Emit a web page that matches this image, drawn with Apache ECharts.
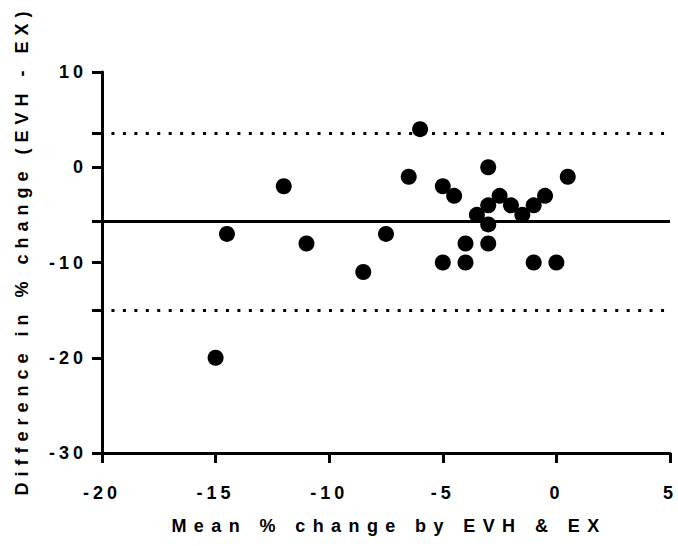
<!DOCTYPE html>
<html>
<head>
<meta charset="utf-8">
<script src="https://cdn.jsdelivr.net/npm/echarts@6/dist/echarts.min.js"></script>
<style>
  html, body { margin: 0; padding: 0; background: #fff; }
  #chart { width: 678px; height: 546px; }
</style>
</head>
<body>
<div id="chart"></div>
<script>
// Bland-Altman data: mean of the two methods (x) and their difference (y)
const meanChange = [-15, -14.5, -12, -11, -8.5, -7.5, -6.5, -6, -5, -5, -4.5, -4, -4, -3.5, -3, -3, -3, -3, -2.5, -2, -1.5, -1, -1, -0.5, 0, 0.5];
const diffChange = [-20, -7, -2, -8, -11, -7, -1, 4, -2, -10, -3, -8, -10, -5, 0, -4, -6, -8, -3, -4, -5, -4, -10, -3, -10, -1];

// bias and 95% limits of agreement
const bias = -5.7;
const upperLimit = 3.6;
const lowerLimit = -15.0;

const xTicks = [-20, -15, -10, -5, 0, 5];
const yTicks = [-30, -20, -10, 0, 10];

const xTitle = 'Mean % change by EVH & EX';
const yTitle = 'Difference in % change (EVH - EX)';

const FONT = "'Liberation Sans', Arial, Helvetica, sans-serif";
const labelStyle = { fontSize: 18, fontWeight: 'bold', color: '#000', fontFamily: FONT };

const chart = echarts.init(document.getElementById('chart'), null, { renderer: 'svg' });

const points = meanChange.map((x, i) => [x, diffChange[i]]);

chart.setOption({
  animation: false,
  backgroundColor: '#fff',
  grid: { left: 102, right: 8, top: 72, bottom: 93 },
  xAxis: {
    type: 'value',
    min: xTicks[0],
    max: xTicks[xTicks.length - 1],
    interval: 5,
    splitLine: { show: false },
    axisLine: { onZero: false, lineStyle: { color: '#000', width: 3 } },
    axisTick: { length: 10, lineStyle: { color: '#000', width: 3 } },
    axisLabel: Object.assign({ margin: 31 }, labelStyle),
    name: xTitle,
    nameLocation: 'middle',
    nameGap: 64,
    nameTextStyle: Object.assign({ padding: [0, 0, 0, 6] }, labelStyle)
  },
  yAxis: {
    type: 'value',
    min: yTicks[0],
    max: yTicks[yTicks.length - 1],
    interval: 10,
    splitLine: { show: false },
    axisLine: { onZero: false, lineStyle: { color: '#000', width: 3 } },
    axisTick: {
      length: 10,
      lineStyle: { color: '#000', width: 3 },
      customValues: yTicks.concat([upperLimit, bias, lowerLimit])
    },
    axisLabel: Object.assign({ margin: 15, customValues: yTicks }, labelStyle),
    name: yTitle,
    nameLocation: 'middle',
    nameGap: 71,
    nameTextStyle: Object.assign({ padding: [0, 0, 0, 24] }, labelStyle)
  },
  series: [{
    type: 'scatter',
    data: points,
    symbol: 'circle',
    symbolSize: 16,
    itemStyle: { color: '#000', opacity: 1 },
    z: 3,
    markLine: {
      silent: true,
      symbol: 'none',
      label: { show: false },
      z: 2,
      data: [
        { yAxis: bias, lineStyle: { color: '#000', width: 3, type: 'solid', opacity: 1 } },
        { yAxis: upperLimit, lineStyle: { color: '#000', width: 3, type: [3, 8.45], dashOffset: 1.9, opacity: 1 } },
        { yAxis: lowerLimit, lineStyle: { color: '#000', width: 3, type: [3, 8.45], dashOffset: 1.9, opacity: 1 } }
      ]
    }
  }]
});

// widen the tracking of the bold labels
function spaceLetters() {
  document.querySelectorAll('#chart text').forEach(function (t) {
    const s = t.textContent;
    let sp = '4px';
    if (s === xTitle) sp = '7.4px';
    else if (s === yTitle) sp = '6px';
    t.setAttribute('letter-spacing', sp);
  });
}
chart.on('finished', spaceLetters);
spaceLetters();
</script>
</body>
</html>
